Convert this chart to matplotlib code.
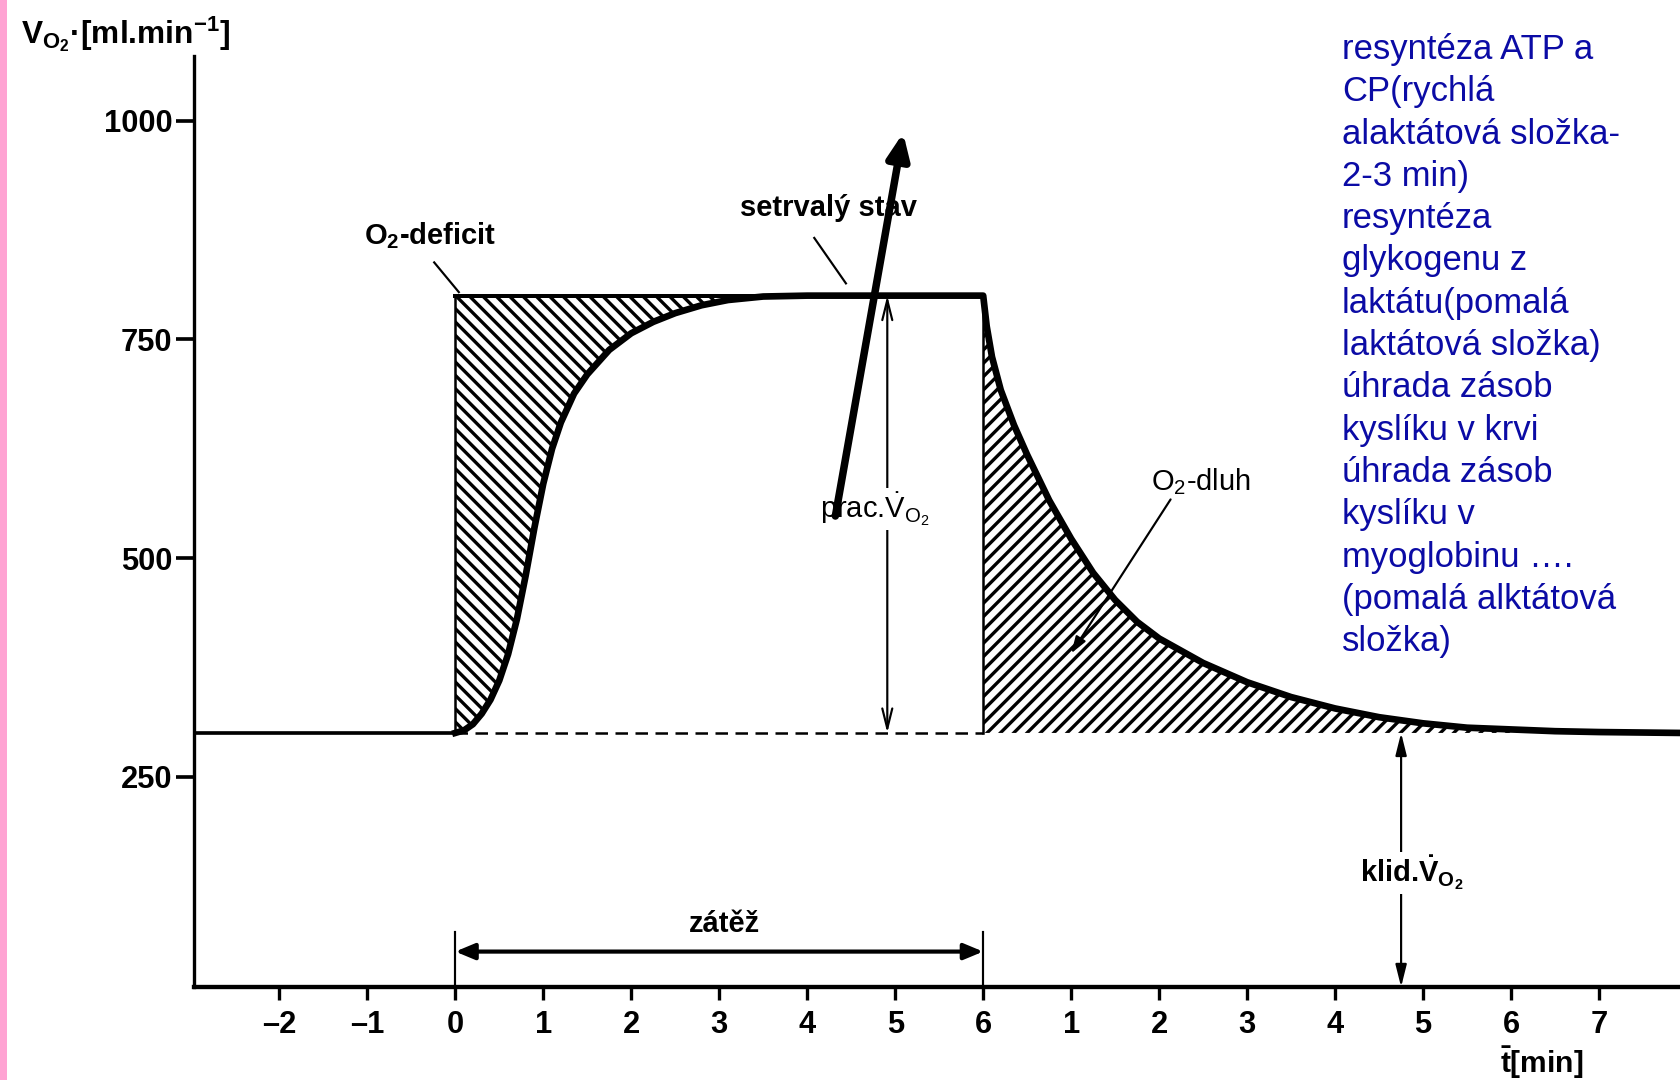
import matplotlib
matplotlib.use('Agg')
import matplotlib.pyplot as plt
from matplotlib.patches import Rectangle

plt.rcParams['font.family'] = ['Liberation Sans', 'DejaVu Sans']
plt.rcParams['mathtext.default'] = 'regular'
plt.rcParams['hatch.linewidth'] = 2.0

# ---- data ----
REST = 300        # resting VO2 [ml/min]
WORK = 800        # steady-state VO2 during load
LOAD_START = 0
LOAD_END = 6

on_t = [0.0, 0.1, 0.2, 0.3, 0.4, 0.5, 0.6, 0.7, 0.8, 0.9, 1.0, 1.1, 1.2,
        1.35, 1.5, 1.75, 2.0, 2.25, 2.5, 2.8, 3.1, 3.5, 4.0, 6.0]
on_v = [300, 303, 310, 322, 338, 360, 390, 430, 480, 535, 585, 625, 655,
        688, 710, 738, 757, 770, 780, 789, 795, 799, 800, 800]

rec_t = [6.0, 6.04, 6.1, 6.2, 6.35, 6.5, 6.75, 7.0, 7.25, 7.5, 7.75, 8.0,
         8.5, 9.0, 9.5, 10.0, 10.5, 11.0, 11.5, 12.0, 12.5, 13.0, 13.92]
rec_v = [800, 765, 730, 692, 652, 618, 566, 522, 483, 452, 427, 408,
         380, 358, 341, 328, 318, 311, 306, 304, 302, 301, 300]

xtick_pos = [-2, -1, 0, 1, 2, 3, 4, 5, 6, 7, 8, 9, 10, 11, 12, 13]
xtick_labels = ['–2', '–1', '0', '1', '2', '3', '4', '5', '6',
                '1', '2', '3', '4', '5', '6', '7']
ytick_vals = [250, 500, 750, 1000]

notes = ['resyntéza ATP a', 'CP(rychlá', 'alaktátová složka-', '2-3 min)',
         'resyntéza', 'glykogenu z', 'laktátu(pomalá', 'laktátová složka)',
         'úhrada zásob', 'kyslíku v krvi', 'úhrada zásob', 'kyslíku v',
         'myoglobinu ….', '(pomalá alktátová', 'složka)']

XMIN, XMAX = -2.97, 13.92
YMIN, YMAX = 9.5, 1074

# ---- figure ----
fig = plt.figure(figsize=(14, 9), dpi=120)
fig.patches.append(Rectangle((0, 0), 7 / 1680, 1, transform=fig.transFigure,
                             facecolor='#ffa3d3', edgecolor='none'))
ax = fig.add_axes([194 / 1680, 1 - 987 / 1080, 1 - 194 / 1680, (987 - 56) / 1080])
ax.set_xlim(XMIN, XMAX)
ax.set_ylim(YMIN, YMAX)
for s in ['top', 'right']:
    ax.spines[s].set_visible(False)
ax.spines['left'].set_linewidth(2.0)
ax.spines['bottom'].set_linewidth(2.6)

ax.set_xticks(xtick_pos)
ax.set_xticklabels(xtick_labels, fontsize=18.5, fontweight='bold')
ax.set_yticks(ytick_vals)
ax.set_yticklabels([str(v) for v in ytick_vals], fontsize=18.5, fontweight='bold')
ax.tick_params(axis='x', direction='out', length=8, width=2, pad=6)
ax.tick_params(axis='y', direction='out', length=11, width=2.2, pad=2)

# hatched areas
ax.fill_between(on_t, on_v, WORK, facecolor='none', edgecolor='black',
                hatch='\\\\\\', linewidth=0, zorder=1)
ax.fill_between(rec_t, REST, rec_v, facecolor='none', edgecolor='black',
                hatch='///', linewidth=0, zorder=1)

# curves and edges
ax.plot([XMIN, LOAD_START], [REST, REST], color='black', lw=2.2, zorder=3)
ax.plot(on_t + rec_t, on_v + rec_v, color='black', lw=4.0, zorder=3,
        solid_joinstyle='round')
ax.plot([LOAD_START, 4], [WORK, WORK], color='black', lw=2.4, zorder=3)
ax.plot([LOAD_START, LOAD_START], [REST, WORK], color='black', lw=1.5, zorder=3)
ax.plot([LOAD_END, LOAD_END], [REST, WORK], color='black', lw=1.5, zorder=3)
ax.plot([LOAD_START, LOAD_END], [REST, REST], color='black', lw=1.5,
        ls=(0, (5, 3)), zorder=3)

# prac. VO2 double arrow
ax.annotate('', xy=(4.91, WORK), xytext=(4.91, REST),
            arrowprops=dict(arrowstyle='<->,head_length=0.8,head_width=0.2',
                            lw=1.3, color='black', mutation_scale=15,
                            shrinkA=0, shrinkB=0), zorder=2)
ax.text(4.77, 556, r'prac.$\dot{V}_{O_2}$', ha='center', va='center',
        fontsize=17.5, bbox=dict(facecolor='white', edgecolor='none', pad=1),
        zorder=4)

# thick arrow
ax.annotate('', xy=(5.09, 986), xytext=(4.32, 548),
            arrowprops=dict(arrowstyle='-|>,head_length=0.5,head_width=0.22',
                            lw=4.5, color='black', mutation_scale=25,
                            shrinkA=0, shrinkB=0), zorder=6)

# labels with pointers
ax.text(-0.29, 869, r'O$_2$-deficit', ha='center', va='center', fontsize=17.5,
        fontweight='bold', zorder=4)
ax.plot([-0.24, 0.04], [838, 804], color='black', lw=1.3, zorder=3)

ax.text(4.24, 900, 'setrvalý stav', ha='center', va='center', fontsize=17.5,
        fontweight='bold', zorder=4)
ax.plot([4.08, 4.44], [866, 814], color='black', lw=1.3, zorder=3)

ax.text(8.47, 587, r'O$_2$-dluh', ha='center', va='center', fontsize=17.5, zorder=4)
ax.annotate('', xy=(7.0, 391), xytext=(8.13, 567),
            arrowprops=dict(arrowstyle='-|>,head_length=0.6,head_width=0.2',
                            lw=1.3, color='black', mutation_scale=14,
                            shrinkA=0, shrinkB=0), zorder=3)

# zátěž
ax.plot([LOAD_START, LOAD_START], [YMIN, 72], color='black', lw=1.3)
ax.plot([LOAD_END, LOAD_END], [YMIN, 72], color='black', lw=1.3)
ax.annotate('', xy=(LOAD_END, 50), xytext=(LOAD_START, 50),
            arrowprops=dict(arrowstyle='<|-|>,head_length=0.6,head_width=0.25',
                            lw=2.5, color='black', mutation_scale=16,
                            shrinkA=0, shrinkB=0))
ax.text(3.06, 82, 'zátěž', ha='center', va='center', fontsize=17.5,
        fontweight='bold')

# klid. VO2
ax.annotate('', xy=(10.75, REST), xytext=(10.75, YMIN),
            arrowprops=dict(arrowstyle='<|-|>,head_length=0.8,head_width=0.2',
                            lw=1.3, color='black', mutation_scale=14,
                            shrinkA=0, shrinkB=0), zorder=2)
ax.text(10.87, 140, r'klid.$\dot{V}_{O_2}$', ha='center', va='center',
        fontsize=17.5, fontweight='bold',
        bbox=dict(facecolor='white', edgecolor='none', pad=1), zorder=4)

# axis titles
fig.text(21 / 1680, 1 - 34 / 1080, r'$V_{O_2}$·[ml.min$^{-1}$]', ha='left',
         va='center', fontsize=19, fontweight='bold')
fig.text(1542 / 1680, 1 - 1063 / 1080, r'$\bar{t}$[min]', ha='center',
         va='center', fontsize=18, fontweight='bold')

# blue notes
for i, line in enumerate(notes):
    yb = 59 + 42.3 * i
    fig.text(1342 / 1680, 1 - yb / 1080, line, ha='left', va='baseline',
             fontsize=20.8, color='#0b0ba5')

fig.savefig('out.png', dpi=120)
